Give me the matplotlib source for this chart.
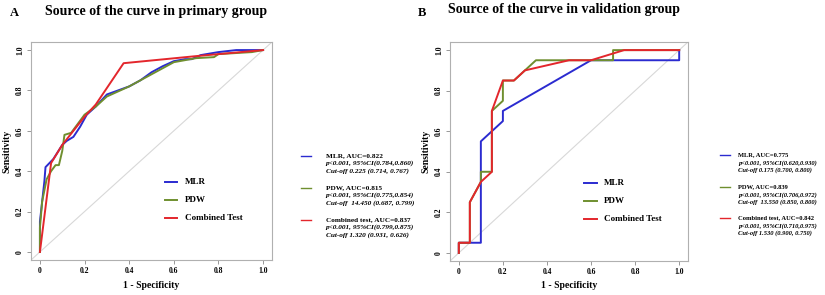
import matplotlib
matplotlib.use("Agg")
import matplotlib.pyplot as plt

plt.rcParams['font.family'] = ['Liberation Serif', 'DejaVu Serif']

# ---- data: panel A (primary group) ----
a_mlr_x = [0, 0, 0.01, 0.02, 0.025, 0.06, 0.10, 0.12, 0.15, 0.18, 0.21, 0.25, 0.30, 0.35, 0.40,
           0.45, 0.50, 0.55, 0.60, 0.65, 0.68, 0.72, 0.80, 0.88, 1.0]
a_mlr_y = [0, 0.15, 0.25, 0.35, 0.42, 0.46, 0.53, 0.55, 0.57, 0.62, 0.68, 0.72, 0.78, 0.80, 0.82,
           0.85, 0.89, 0.92, 0.945, 0.955, 0.955, 0.975, 0.99, 1.0, 1.0]
a_pdw_x = [0, 0, 0.01, 0.03, 0.05, 0.07, 0.085, 0.10, 0.11, 0.14, 0.20, 0.25, 0.30, 0.40, 0.50,
           0.60, 0.70, 0.78, 0.80, 0.95, 1.0]
a_pdw_y = [0, 0.12, 0.25, 0.36, 0.40, 0.43, 0.43, 0.50, 0.58, 0.59, 0.68, 0.72, 0.77, 0.82, 0.88,
           0.94, 0.96, 0.965, 0.98, 0.99, 1.0]
a_cmb_x = [0, 0.05, 0.10, 0.15, 0.20, 0.25, 0.375, 0.70, 0.80, 1.0]
a_cmb_y = [0, 0.44, 0.53, 0.60, 0.67, 0.73, 0.935, 0.97, 0.98, 1.0]

# ---- data: panel B (validation group) ----
b_mlr_x = [0, 0, 0.05, 0.10, 0.10, 0.20, 0.20, 0.60, 1.0, 1.0]
b_mlr_y = [0, 0.05, 0.05, 0.05, 0.55, 0.65, 0.70, 0.95, 0.95, 1.0]
b_pdw_x = [0, 0, 0.05, 0.05, 0.10, 0.10, 0.15, 0.15, 0.20, 0.20, 0.25, 0.30, 0.35, 0.70, 0.70, 1.0]
b_pdw_y = [0, 0.05, 0.05, 0.25, 0.35, 0.40, 0.40, 0.70, 0.75, 0.85, 0.85, 0.90, 0.95, 0.95, 1.0, 1.0]
b_cmb_x = [0, 0, 0.05, 0.05, 0.10, 0.15, 0.15, 0.20, 0.25, 0.30, 0.50, 0.60, 0.75, 1.0]
b_cmb_y = [0, 0.05, 0.05, 0.25, 0.35, 0.40, 0.70, 0.85, 0.85, 0.90, 0.95, 0.95, 1.0, 1.0]

ticks = [0, 0.2, 0.4, 0.6, 0.8, 1.0]
tick_labels = ['0', '0.2', '0.4', '0.6', '0.8', '1.0']
names = ['MLR', 'PDW', 'Combined Test']
colors = ['#2b2bd0', '#6f8f2f', '#e3262c']

a_stats = [["MLR, AUC=0.822", "p<0.001, 95%CI(0.784,0.860)", "Cut-off 0.225 (0.714, 0.767)"],
           ["PDW, AUC=0.815", "p<0.001, 95%CI(0.775,0.854)", "Cut-off  14.450 (0.687, 0.799)"],
           ["Combined test, AUC=0.837", "p<0.001, 95%CI(0.799,0.875)", "Cut-off 1.320 (0.931, 0.626)"]]
b_stats = [["MLR, AUC=0.775", "p<0.001, 95%CI(0.620,0.930)", "Cut-off 0.175 (0.700, 0.800)"],
           ["PDW, AUC=0.839", "p<0.001, 95%CI(0.706,0.972)", "Cut-off  13.550 (0.850, 0.800)"],
           ["Combined test, AUC=0.842", "p<0.001, 95%CI(0.710,0.975)", "Cut-off 1.530 (0.900, 0.750)"]]

W, H = 825, 295
fig = plt.figure(figsize=(W / 100, H / 100), dpi=100)


def px(x0, y0, x1, y1):
    return [x0 / W, 1 - y1 / H, (x1 - x0) / W, (y1 - y0) / H]


def roc_panel(rect, curves, leg_x):
    ax = fig.add_axes(rect)
    ax.set_xlim(-0.04, 1.04)
    ax.set_ylim(-0.04, 1.04)
    ax.axline((0, 0), (1, 1), color='#d8d8d8', lw=0.8, zorder=1)
    for (x, y), c in zip(curves, colors):
        ax.plot(x, y, color=c, lw=1.4, zorder=2)
    for s in ax.spines.values():
        s.set_color('#b0b0b0')
        s.set_linewidth(0.8)
    ax.set_xticks(ticks)
    ax.set_xticklabels(tick_labels, fontsize=5.5, fontweight='bold')
    ax.set_yticks(ticks)
    ax.set_yticklabels(tick_labels, fontsize=5.5, fontweight='bold', rotation=90, va='center')
    ax.tick_params(length=3, width=0.6, color='#888888', pad=2)
    ax.set_xlabel('1 - Specificity', fontsize=7, fontweight='bold', labelpad=4)
    ax.set_ylabel('Sensitivity', fontsize=7, fontweight='bold', labelpad=3)
    # inner legend
    for i, (n, c) in enumerate(zip(names, colors)):
        yy = 0.345 - i * 0.089
        ax.plot([leg_x, leg_x + 0.055], [yy, yy], color=c, lw=1.4)
        ax.text(leg_x + 0.09, yy, n, fontsize=6.5, fontweight='bold', va='center')
    return ax


roc_panel(px(31, 42, 272, 260), [(a_mlr_x, a_mlr_y), (a_pdw_x, a_pdw_y), (a_cmb_x, a_cmb_y)], 0.56)
roc_panel(px(450, 42, 688, 261), [(b_mlr_x, b_mlr_y), (b_pdw_x, b_pdw_y), (b_cmb_x, b_cmb_y)], 0.57)

# panel letters and titles
fig.text(10 / W, 1 - 13 / H, 'A', fontsize=9, fontweight='bold', va='center')
fig.text(45 / W, 1 - 11 / H, 'Source of the curve in primary group', fontsize=10,
         fontweight='bold', va='center')
fig.text(418 / W, 1 - 13 / H, 'B', fontsize=9, fontweight='bold', va='center')
fig.text(448 / W, 1 - 10 / H, 'Source of the curve in validation group', fontsize=10,
         fontweight='bold', va='center')


def outer_legend(x_line, x_text, y_tops, stats, size, gap):
    for y0, st, c in zip(y_tops, stats, colors):
        fig.add_artist(plt.Line2D([x_line / W, (x_line + 10) / W], [1 - y0 / H, 1 - y0 / H],
                                  color=c, lw=1.0))
        for k, line in enumerate(st):
            fig.text(x_text / W, 1 - (y0 + k * gap) / H, line, fontsize=size, fontweight='bold',
                     style='normal' if k == 0 else 'italic', va='center')


outer_legend(301, 326, [156, 188, 220], a_stats, 5.2, 7.6)
outer_legend(720, 738, [155, 187, 218], b_stats, 4.7, 7.8)

fig.savefig('out.png', dpi=100)
